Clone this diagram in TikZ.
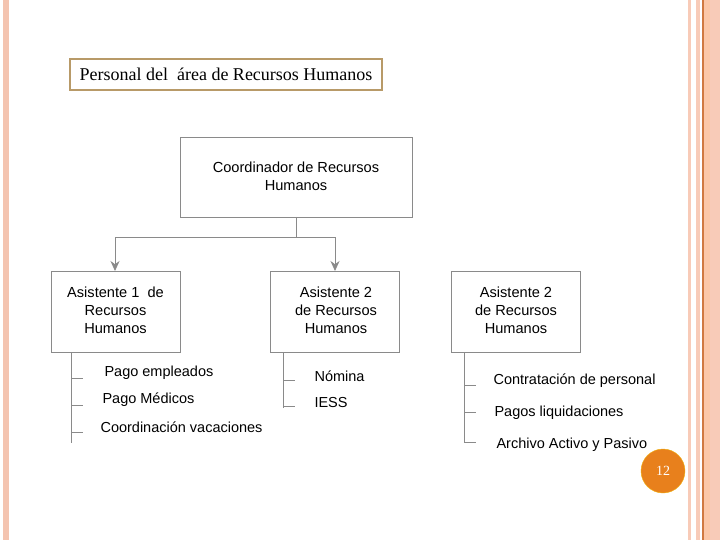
\documentclass[tikz,border=0pt]{standalone}
\usetikzlibrary{arrows.meta}
\usepackage{fontspec}
\setmainfont{Liberation Sans}
\newfontfamily\serifx{Liberation Serif}
\definecolor{pk}{HTML}{F4C4B0}
\definecolor{pk2}{HTML}{F8CBB8}
\definecolor{pch}{HTML}{FBC8A8}
\definecolor{brn}{HTML}{D07A40}
\definecolor{tan}{HTML}{B89A68}
\definecolor{org}{HTML}{E8801C}
\definecolor{gl}{HTML}{8A8A8A}
\begin{document}
\begin{tikzpicture}[x=1pt,y=-1pt,
  bx/.style={draw=gl,line width=0.8pt,fill=white},
  lbl/.style={font=\fontsize{14.6}{18}\selectfont,align=center},
  item/.style={font=\fontsize{14.5}{17}\selectfont,anchor=west},
  ln/.style={draw=gl,line width=0.8pt},
  tip/.style={ln,-{Stealth[length=10pt,width=9pt]}}]
\useasboundingbox (0,0) rectangle (720,540);
\fill[white] (0,0) rectangle (720,540);
\fill[pk] (3,0) rectangle (9,540);
\fill[pk2] (688,0) rectangle (691,540);
\fill[pk2] (696,0) rectangle (700,540);
\fill[brn] (702,0) rectangle (703.5,540);
\fill[pch] (703.5,0) rectangle (710,540);
\fill[pk2] (710,0) rectangle (720,540);
% title
\node[draw=tan,line width=2pt,minimum width=312,minimum height=31,inner sep=0,font=\serifx\fontsize{18}{20}\selectfont] (title) at (226,74.5) {Personal del~ área de Recursos Humanos};
% boxes
\draw[bx] (180,137) rectangle (412,217);
\node[lbl] (top) at (296,176) {Coordinador de Recursos\\Humanos};
\draw[bx] (51,271) rectangle (180,352);
\node[lbl] (a1) at (115.5,310) {Asistente 1~ de\\Recursos\\Humanos};
\draw[bx] (270,271) rectangle (399,352);
\node[lbl] (a2) at (336,310) {Asistente 2\\de Recursos\\Humanos};
\draw[bx] (451,271) rectangle (580,352);
\node[lbl] (a3) at (516,310) {Asistente 2\\de Recursos\\Humanos};
% connectors
\coordinate (j) at (296,237);
\coordinate (jl) at (115,237);
\coordinate (jr) at (335,237);
\draw[ln] (296,217) -- (j);
\draw[ln] (jl) -- (jr);
\draw[tip] (jl) -- (115,271);
\draw[tip] (jr) -- (335,271);
% group 1
\draw[ln] (71,352) -- (71,443);
\foreach \y in {378,405,432} \draw[ln] (71,\y) -- (83,\y);
\node[item] (g11) at (101,373) {Pago empleados};
\node[item] (g12) at (99,400) {Pago Médicos};
\node[item] (g13) at (97,427) {Coordinación vacaciones};
% group 2
\draw[ln] (283,352) -- (283,408);
\foreach \y in {380,406} \draw[ln] (283,\y) -- (295,\y);
\node[item] (g21) at (311,376) {Nómina};
\node[item] (g22) at (311,403) {IESS};
% group 3
\draw[ln] (464,352) -- (464,443);
\foreach \y in {385,412,442} \draw[ln] (464,\y) -- (476,\y);
\node[item] (g31) at (490,381) {Contratación de personal};
\node[item] (g32) at (491,413) {Pagos liquidaciones};
\node[item] (g33) at (493,445) {Archivo Activo y Pasivo};
% page number
\node[circle,fill=org,draw=org!60!yellow,minimum size=44,inner sep=0,text=white,font=\serifx\fontsize{14}{16}\selectfont] (pg) at (663,471) {12};
\end{tikzpicture}
\end{document}
